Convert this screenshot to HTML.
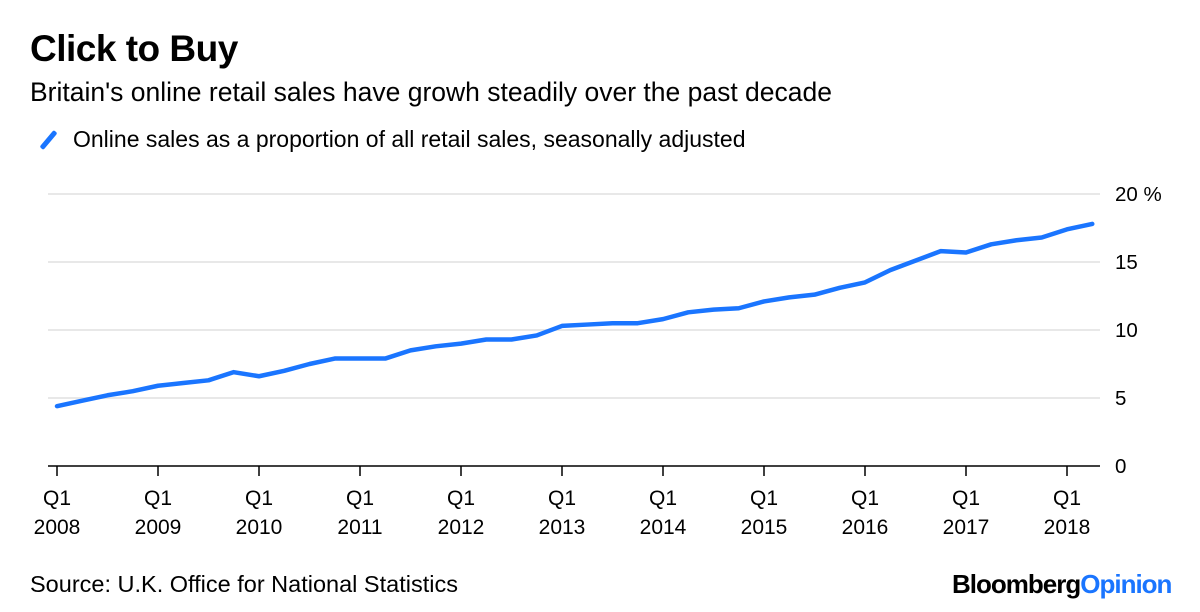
<!DOCTYPE html>
<html><head><meta charset="utf-8">
<style>
body{margin:0;width:1200px;height:612px;background:#fff;font-family:"Liberation Sans",sans-serif;overflow:hidden;position:relative}
.t{position:absolute;color:#000;white-space:nowrap}
</style></head><body>
<div class="t" style="left:30px;top:28px;font-size:37px;font-weight:bold;letter-spacing:-0.5px">Click to Buy</div>
<div class="t" style="left:30px;top:77px;font-size:26.5px">Britain's online retail sales have growh steadily over the past decade</div>
<div class="t" style="left:46px;top:126px;font-size:23px"><span style="display:inline-block;width:5px;height:22px;background:#1a75ff;transform:rotate(40deg);vertical-align:-4px;margin-right:22px;border-radius:2px"></span>Online sales as a proportion of all retail sales, seasonally adjusted</div>
<svg id="c" width="1200" height="612" style="position:absolute;left:0;top:0"></svg>
<div class="t" style="left:30px;top:571px;font-size:23.5px">Source: U.K. Office for National Statistics</div>
<div class="t" style="left:952px;top:569px;font-size:26px;font-weight:bold;letter-spacing:-1px">Bloomberg<span style="color:#1a75ff">Opinion</span></div>
<script>
const values=[4.4,4.8,5.2,5.5,5.9,6.1,6.3,6.9,6.6,7.0,7.5,7.9,7.9,7.9,8.5,8.8,9.0,9.3,9.3,9.6,10.3,10.4,10.5,10.5,10.8,11.3,11.5,11.6,12.1,12.4,12.6,13.1,13.5,14.4,15.1,15.8,15.7,16.3,16.6,16.8,17.4,17.8];
const yTicks=[0,5,10,15,20];
const yTickLabels=["0","5","10","15","20 %"];
const years=[2008,2009,2010,2011,2012,2013,2014,2015,2016,2017,2018];
const svg=document.getElementById('c');const NS='http://www.w3.org/2000/svg';
const x=i=>57+i*25.25;const y=v=>466-v*13.6;
function mk(t,a){const e=document.createElementNS(NS,t);for(const k in a)e.setAttribute(k,a[k]);svg.appendChild(e);return e;}
yTicks.forEach((v,i)=>{
 const l=mk('line',{x1:48,x2:1100,y1:y(v),y2:y(v),stroke:v===0?'#000':'#e8e8e8','stroke-width':v===0?1.5:2});
 
 
 const t=mk('text',{x:1115,y:y(v)+7,'font-size':20.5,'font-family':'Liberation Sans, sans-serif'});t.textContent=yTickLabels[i];
 
 
});
years.forEach((yr,j)=>{
 const cx=x(j*4);
 const tk=mk('line',{x1:cx,x2:cx,y1:466,y2:476,stroke:'#000','stroke-width':1.5});
 
 
 const a=mk('text',{x:cx,y:505,'text-anchor':'middle','font-size':21,'font-family':'Liberation Sans, sans-serif'});a.textContent='Q1';
 
 
 const b=mk('text',{x:cx,y:534,'text-anchor':'middle','font-size':21,'font-family':'Liberation Sans, sans-serif'});b.textContent=yr;
 
 
});
const p=mk('polyline',{points:values.map((v,i)=>x(i)+','+y(v)).join(' '),fill:'none',stroke:'#1a75ff','stroke-width':4.5,'stroke-linejoin':'round','stroke-linecap':'round'});


</script>
</body></html>
